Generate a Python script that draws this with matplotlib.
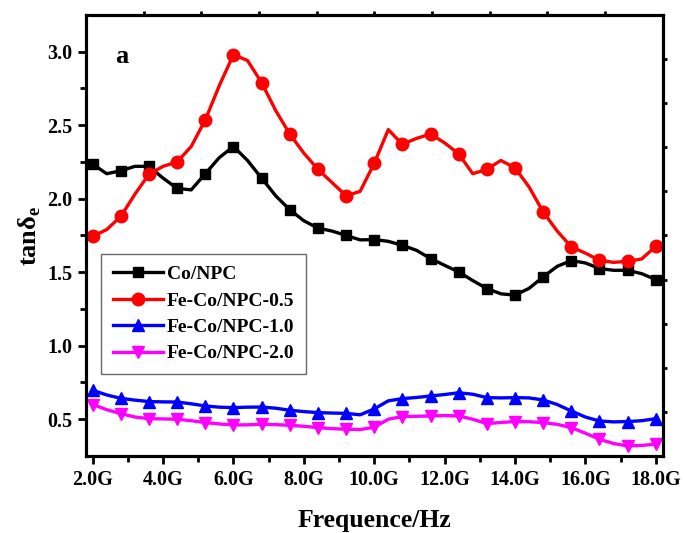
"""tan delta_e of Co/NPC and Fe-Co/NPC samples, 2-18 GHz."""

import numpy as np
import matplotlib
matplotlib.use('Agg')
import matplotlib.pyplot as plt

# frequency grid (GHz): markers sit on every second point (0.8 GHz step)
freq = np.round(np.arange(2.0, 18.01, 0.4), 1)

co_npc = [2.235, 2.17, 2.19, 2.22, 2.22, 2.14, 2.07, 2.06, 2.17, 2.28,
          2.355, 2.26, 2.14, 2.02, 1.925, 1.85, 1.80, 1.78, 1.75, 1.72,
          1.722, 1.71, 1.683, 1.649, 1.593, 1.547, 1.502, 1.443, 1.389, 1.353,
          1.344, 1.39, 1.468, 1.54, 1.579, 1.563, 1.525, 1.513, 1.513, 1.49,
          1.45]
feco_05 = [1.744, 1.79, 1.88, 2.03, 2.167, 2.22, 2.25, 2.355, 2.536, 2.77,
           2.98, 2.94, 2.79, 2.60, 2.44, 2.31, 2.20, 2.11, 2.02, 2.05,
           2.24, 2.47, 2.37, 2.41, 2.44, 2.38, 2.305, 2.17, 2.20, 2.26,
           2.21, 2.08, 1.91, 1.78, 1.672, 1.63, 1.581, 1.567, 1.574, 1.59,
           1.676]
feco_10 = [0.697, 0.665, 0.642, 0.63, 0.62, 0.618, 0.617, 0.605, 0.59, 0.582,
           0.579, 0.582, 0.583, 0.575, 0.561, 0.552, 0.545, 0.542, 0.54, 0.53,
           0.57, 0.625, 0.64, 0.648, 0.658, 0.668, 0.68, 0.67, 0.647, 0.645,
           0.647, 0.645, 0.631, 0.60, 0.556, 0.515, 0.488, 0.482, 0.484, 0.49,
           0.504]
feco_20 = [0.60, 0.565, 0.538, 0.515, 0.504, 0.502, 0.50, 0.49, 0.477, 0.468,
           0.461, 0.462, 0.466, 0.463, 0.459, 0.452, 0.443, 0.436, 0.432, 0.43,
           0.445, 0.50, 0.518, 0.52, 0.522, 0.525, 0.522, 0.50, 0.47, 0.478,
           0.484, 0.483, 0.477, 0.465, 0.443, 0.405, 0.364, 0.335, 0.318, 0.322,
           0.33]

names = ['Co/NPC', 'Fe-Co/NPC-0.5', 'Fe-Co/NPC-1.0', 'Fe-Co/NPC-2.0']
series = [co_npc, feco_05, feco_10, feco_20]
colors = ['black', 'red', 'blue', 'magenta']
markers = ['s', 'o', '^', 'v']
msizes = [7.5, 9, 8.5, 8.5]

xticks = [2, 4, 6, 8, 10, 12, 14, 16, 18]
xticklabels = ['2.0G', '4.0G', '6.0G', '8.0G', '10.0G', '12.0G', '14.0G',
               '16.0G', '18.0G']
yticks = [0.5, 1.0, 1.5, 2.0, 2.5, 3.0]

plt.rcParams['font.family'] = 'Liberation Serif'
plt.rcParams['font.weight'] = 'bold'

fig = plt.figure(figsize=(6.84, 5.33), dpi=100)
ax = fig.add_axes([0.1257, 0.1445, 0.8433, 0.8275])

for yy, name, cc, mk, ms in zip(series, names, colors, markers, msizes):
    ax.plot(freq, yy, color=cc, lw=2.4, marker=mk, markersize=ms,
            markevery=2, label=name)

xlim = (1.81, 18.2)
ylim = (0.25, 3.25)
ax.set_xlim(*xlim)
ax.set_ylim(*ylim)
ax.set_xticks(xticks)
ax.set_xticklabels(xticklabels)
ax.set_xticks([3, 5, 7, 9, 11, 13, 15, 17], minor=True)
ax.set_yticks(yticks)
ax.set_yticklabels(['%.1f' % v for v in yticks])
ax.set_yticks([0.75, 1.25, 1.75, 2.25, 2.75], minor=True)
ax.tick_params(which='major', direction='out', length=6, width=2,
               labelsize=14.5, pad=4)
ax.tick_params(which='minor', direction='out', length=4, width=2)
for sp in ax.spines.values():
    sp.set_linewidth(2.2)

# Origin-style ticks on the top and right frame
axt = ax.twiny()
axt.set_xlim(*xlim)
axt.set_xticks(np.linspace(xlim[0], xlim[1], 11)[1:-1])
axt.set_xticklabels([])
axt.tick_params(direction='out', length=3, width=2)
axr = ax.twinx()
axr.set_ylim(*ylim)
axr.set_yticks(np.linspace(ylim[0], ylim[1], 11)[1:-1])
axr.set_yticklabels([])
axr.tick_params(direction='out', length=3, width=2)
for a in (axt, axr):
    for sp in a.spines.values():
        sp.set_linewidth(2.2)

ax.set_xlabel('Frequence/Hz', fontsize=18.5, fontweight='bold', labelpad=14)
ax.set_ylabel('tanδ$_{\\mathregular{e}}$', fontsize=19, fontweight='bold',
              labelpad=3)
ax.text(0.062, 0.905, 'a', transform=ax.transAxes, fontsize=19,
        fontweight='bold', ha='center', va='center')

leg = ax.legend(loc='upper left', bbox_to_anchor=(0.026, 0.458),
                fontsize=14, handlelength=2.6, handletextpad=0.2,
                borderpad=0.6, labelspacing=0.45, fancybox=False,
                borderaxespad=0)
leg.get_frame().set_edgecolor('#444444')
leg.get_frame().set_linewidth(1.0)

fig.savefig('out.png', dpi=100)
